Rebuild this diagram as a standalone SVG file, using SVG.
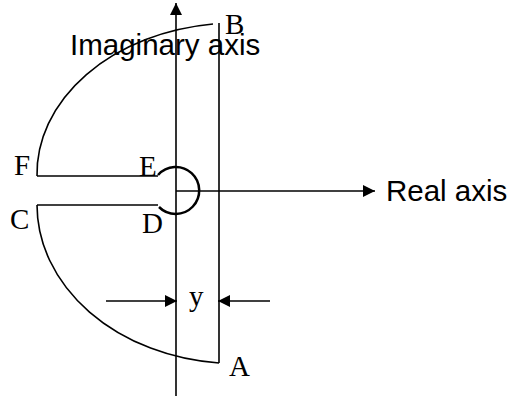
<svg xmlns="http://www.w3.org/2000/svg" width="513" height="401" viewBox="0 0 513 401">
<defs>
<style>
.ln{fill:none;stroke:#000;stroke-width:1.6}
.thick{fill:none;stroke:#000;stroke-width:2.5}
.sans{font-family:"Liberation Sans",Arial,sans-serif;font-size:29.5px;fill:#000}
.serif{font-family:"Liberation Serif","Times New Roman",serif;font-size:29px;fill:#000}
</style>
<marker id="ah" viewBox="0 0 12 12" refX="12" refY="6" markerWidth="12" markerHeight="12" markerUnits="userSpaceOnUse" orient="auto">
<path d="M0,0 L12,6 L0,12 Z" fill="#000"/>
</marker>
</defs>
<rect width="513" height="401" fill="#fff"/>
<g id="connectors">
<line id="imag-axis" class="ln" x1="176" y1="396" x2="176" y2="3" marker-end="url(#ah)"/>
<line id="real-axis" class="ln" x1="176" y1="191" x2="375" y2="191" marker-end="url(#ah)"/>
<line id="AB" class="ln" x1="219" y1="23" x2="219" y2="363"/>
<path id="arc-FB" class="ln" d="M37,176 A200,151 0 0 1 213,24"/>
<line id="FE" class="ln" x1="37" y1="176" x2="158" y2="176"/>
<path id="arc-ED" class="thick" d="M158,175 A23.5,23.5 0 1 1 159,207"/>
<line id="CD" class="ln" x1="37" y1="205" x2="158" y2="205"/>
<path id="arc-CA" class="ln" d="M37,205 A200,159 0 0 0 219,363"/>
<line id="dim-left" class="ln" x1="106" y1="301" x2="177" y2="301" marker-end="url(#ah)"/>
<line id="dim-right" class="ln" x1="270" y1="301" x2="218" y2="301" marker-end="url(#ah)"/>
</g>
<g id="labels">
<text class="sans" x="70" y="55">Imaginary axis</text>
<text class="sans" x="386" y="201">Real axis</text>
<text class="serif" x="225" y="34">B</text>
<text class="serif" x="14" y="175">F</text>
<text class="serif" x="139" y="176">E</text>
<text class="serif" x="10" y="229">C</text>
<text class="serif" x="142" y="233">D</text>
<text class="serif" x="229" y="376">A</text>
<text class="serif" x="189" y="306">y</text>
</g>
</svg>
